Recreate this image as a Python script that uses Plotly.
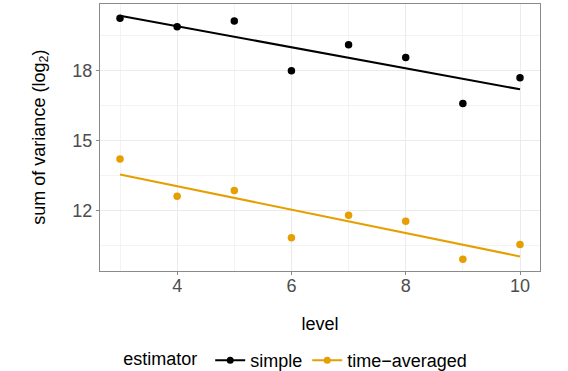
import numpy as np
import plotly.graph_objects as go

levels = [3, 4, 5, 6, 7, 8, 9, 10]
simple = [20.24, 19.88, 20.12, 17.99, 19.10, 18.56, 16.59, 17.69]
time_averaged = [14.21, 12.61, 12.86, 10.83, 11.80, 11.54, 9.91, 10.55]

x_ticks = [4, 6, 8, 10]
y_ticks = [12, 15, 18]

series = [
    ("simple", simple, "#000000"),
    ("time\u2212averaged", time_averaged, "#E69F00"),
]

fig = go.Figure()

for name, values, color in series:
    x = np.array(levels, dtype=float)
    y = np.array(values)
    # linear fit, like geom_smooth(method = "lm", se = FALSE)
    slope, intercept = np.polyfit(x, y, 1)
    fig.add_trace(go.Scatter(
        x=x, y=slope * x + intercept, mode="lines",
        line=dict(color=color, width=2), showlegend=False, hoverinfo="skip"
    ))
    fig.add_trace(go.Scatter(
        x=x, y=y, mode="markers",
        marker=dict(color=color, size=7.5), showlegend=False
    ))
    # legend key only
    fig.add_trace(go.Scatter(
        x=[None], y=[None], mode="lines+markers", name=name,
        line=dict(color=color, width=2), marker=dict(color=color, size=7)
    ))

axis_common = dict(
    showgrid=True, gridcolor="#EBEBEB", gridwidth=1,
    showline=True, mirror=True, linecolor="#8A8A8A", linewidth=1,
    ticks="outside", ticklen=3, tickcolor="#8A8A8A",
    tickfont=dict(size=18, color="#4D4D4D"),
    zeroline=False, automargin=False,
)

fig.update_xaxes(
    range=[2.65, 10.35], tickvals=x_ticks, ticklabelstandoff=-5,
    minor=dict(showgrid=True, gridcolor="#F3F3F3", gridwidth=1, dtick=1, tick0=3),
    title=dict(text="level", font=dict(size=18, color="#000000"), standoff=22),
    **axis_common
)
fig.update_yaxes(
    range=[9.41, 20.85], tickvals=y_ticks,
    minor=dict(showgrid=True, gridcolor="#F3F3F3", gridwidth=1, dtick=1.5, tick0=10.5),
    **axis_common
)

# y title as a rotated annotation so it sits centred on the panel
fig.add_annotation(
    text="sum of variance (log<sub>2</sub>)", textangle=-90,
    xref="paper", yref="paper", x=-0.136, y=0.5,
    xanchor="center", yanchor="middle", showarrow=False,
    font=dict(size=18, color="#000000"),
)

fig.update_layout(
    width=568, height=371,
    margin=dict(l=100, r=28, t=4, b=100, autoexpand=False),
    plot_bgcolor="white", paper_bgcolor="white",
    font=dict(family="Liberation Sans, Arial, sans-serif", size=18, color="#000000"),
    legend=dict(
        orientation="h", x=0.447, xanchor="center", y=-0.335, yanchor="middle",
        title=dict(text="estimator ", side="left", font=dict(size=18)),
        font=dict(size=18), itemwidth=30, tracegroupgap=0,
    ),
)

fig.write_html("out.html", config={"displayModeBar": False},
               post_script="document.body.style.margin = '0px';")
